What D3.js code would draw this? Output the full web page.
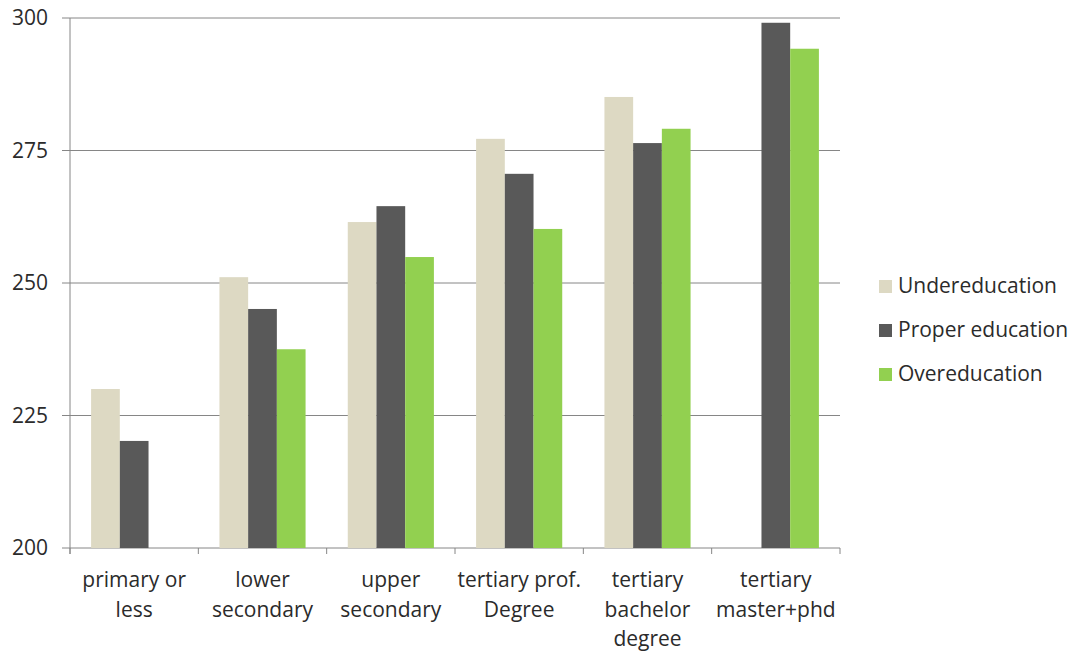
<!doctype html>
<html>
<head>
<meta charset="utf-8" />
<script src="https://d3js.org/d3.v7.min.js"></script>
<style>
  body { margin: 0; background: #fff; }
  text { font-family: "Open Sans", "Noto Sans", sans-serif; fill: #2b2b2b; }
</style>
</head>
<body>
<div id="chart"></div>
<script type="text/javascript">

var categories = [
  ["primary or", "less"],
  ["lower", "secondary"],
  ["upper", "secondary"],
  ["tertiary prof.", "Degree"],
  ["tertiary", "bachelor", "degree"],
  ["tertiary", "master+phd"]
];
var seriesNames = ["Undereducation", "Proper education", "Overeducation"];
var seriesColors = ["#ddd9c3", "#595959", "#92d050"];
var underValues  = [230.0, 251.1, 261.5, 277.2, 285.1, null];
var properValues = [220.2, 245.1, 264.5, 270.6, 276.4, 299.1];
var overValues   = [null, 237.5, 254.9, 260.2, 279.1, 294.2];
var yTicks = [200, 225, 250, 275, 300];

var allSeries = [underValues, properValues, overValues];

var width = 1074, height = 655;
var margin = {left: 70, right: 234, top: 18, bottom: 107};

var svg = d3.select("#chart").append("svg")
  .attr("width", width).attr("height", height);

var x0 = d3.scaleBand().domain(d3.range(categories.length))
  .range([margin.left, width - margin.right]).paddingInner(0).paddingOuter(0);
var x1 = d3.scaleBand().domain(d3.range(allSeries.length))
  .range([0, x0.bandwidth()]).paddingOuter(0.735).paddingInner(0);
var y = d3.scaleLinear().domain([200, 300]).range([height - margin.bottom, margin.top]);

// gridlines
svg.append("g").selectAll("line").data(yTicks).enter().append("line")
  .attr("x1", margin.left - 8).attr("x2", width - margin.right)
  .attr("y1", d => y(d)).attr("y2", d => y(d))
  .attr("stroke", "#868686").attr("stroke-width", 1);

// bars
allSeries.forEach(function(vals, si) {
  svg.append("g").selectAll("rect")
    .data(vals.map((v, i) => ({v: v, i: i})).filter(d => d.v != null))
    .enter().append("rect")
    .attr("x", d => x0(d.i) + x1(si))
    .attr("width", x1.bandwidth())
    .attr("y", d => y(d.v))
    .attr("height", d => y(200) - y(d.v))
    .attr("fill", seriesColors[si]);
});

// y axis line
svg.append("line")
  .attr("x1", margin.left).attr("x2", margin.left)
  .attr("y1", y(300)).attr("y2", y(200) + 6)
  .attr("stroke", "#868686");

// x axis ticks
var boundaries = d3.range(categories.length + 1).map(i => i < categories.length ? x0(i) : x0(i - 1) + x0.bandwidth());
svg.append("g").selectAll("line").data(boundaries).enter().append("line")
  .attr("x1", d => d).attr("x2", d => d)
  .attr("y1", y(200)).attr("y2", y(200) + 6)
  .attr("stroke", "#868686");

// y labels
svg.append("g").selectAll("text").data(yTicks).enter().append("text")
  .attr("x", 48).attr("y", d => y(d))
  .attr("dy", "0.35em").attr("text-anchor", "end")
  .style("font-size", "21px")
  .text(d => d);

// x labels
svg.append("g").selectAll("text").data(categories).enter().append("text")
  .attr("text-anchor", "middle")
  .style("font-size", "21px")
  .each(function(lines, i) {
    var t = d3.select(this);
    lines.forEach(function(l, k) {
      t.append("tspan")
        .attr("x", x0(i) + x0.bandwidth() / 2)
        .attr("y", 587 + k * 29.5)
        .text(l);
    });
  });

// legend
var legend = svg.append("g").selectAll("g").data(seriesNames).enter().append("g")
  .attr("transform", (d, i) => "translate(879," + (286 + i * 44) + ")");
legend.append("rect")
  .attr("x", 0).attr("y", -6).attr("width", 13).attr("height", 13)
  .attr("fill", (d, i) => seriesColors[i]);
legend.append("text")
  .attr("x", 19).attr("y", 0).attr("dy", "0.35em")
  .style("font-size", "21px")
  .text(d => d);

</script>
</body>
</html>
